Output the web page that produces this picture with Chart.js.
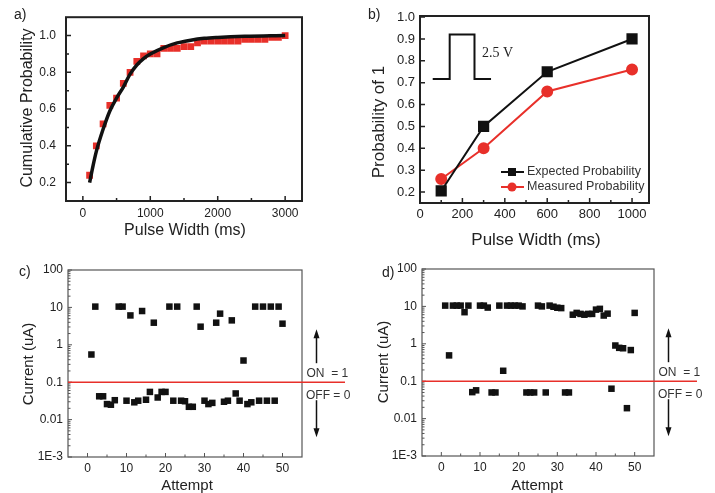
<!DOCTYPE html>
<html>
<head>
<meta charset="utf-8">
<script src="https://cdn.jsdelivr.net/npm/chart.js@4.4.0/dist/chart.umd.min.js"></script>
<style>
  html, body { margin: 0; padding: 0; background: #fff; }
  #wrap { position: relative; width: 715px; height: 493px; overflow: hidden; }
  canvas { position: absolute; left: 0; top: 0; }
</style>
</head>
<body>
<div id="wrap">
  <canvas id="chartA" width="715" height="493"></canvas>
  <canvas id="chartB" width="715" height="493"></canvas>
  <canvas id="chartC" width="715" height="493"></canvas>
  <canvas id="chartD" width="715" height="493"></canvas>
</div>
<script>
// a) cumulative probability vs pulse width
const cumPulse = [100, 200, 300, 400, 500, 600, 700, 800, 900, 1000, 1100, 1200, 1300, 1400, 1500,
  1600, 1700, 1800, 1900, 2000, 2100, 2200, 2300, 2400, 2500, 2600, 2700, 2800, 2900, 3000];
const cumProb = [0.24, 0.40, 0.52, 0.62, 0.66, 0.74, 0.80, 0.86, 0.89, 0.90, 0.90, 0.93, 0.93, 0.93, 0.94,
  0.94, 0.96, 0.97, 0.97, 0.97, 0.97, 0.97, 0.97, 0.98, 0.98, 0.98, 0.98, 0.99, 0.99, 1.00];
const fitPulse = [100, 150, 200, 300, 400, 500, 600, 700, 800, 900, 1000, 1200, 1400, 1600, 1800, 2000, 2400, 3000];
const fitProb = [0.20, 0.29, 0.37, 0.49, 0.59, 0.66, 0.72, 0.79, 0.84, 0.875, 0.90, 0.935, 0.96, 0.975, 0.985, 0.99, 0.996, 1.0];
const xTicksA = [0, 1000, 2000, 3000];
const yTicksA = [0.2, 0.4, 0.6, 0.8, 1.0];

// b) probability of 1
const pulseWidths = [100, 300, 600, 1000];
const expectedProb = [0.205, 0.50, 0.75, 0.90];
const measuredProb = [0.26, 0.40, 0.66, 0.76];
const pulseShapeX = [60, 140, 140, 257, 257, 335];
const pulseShapeY = [0.717, 0.717, 0.92, 0.92, 0.717, 0.717];
const xTicksB = [0, 200, 400, 600, 800, 1000];
const yTicksB = [0.2, 0.3, 0.4, 0.5, 0.6, 0.7, 0.8, 0.9, 1.0];

// c) and d) current per attempt
const attempts = [1, 2, 3, 4, 5, 6, 7, 8, 9, 10, 11, 12, 13, 14, 15, 16, 17, 18, 19, 20, 21, 22, 23, 24, 25,
  26, 27, 28, 29, 30, 31, 32, 33, 34, 35, 36, 37, 38, 39, 40, 41, 42, 43, 44, 45, 46, 47, 48, 49, 50];
const currentC = [0.55, 10.5, 0.042, 0.042, 0.026, 0.025, 0.033, 10.5, 10.5, 0.032,
  6.1, 0.029, 0.032, 8.0, 0.034, 0.055, 3.9, 0.039, 0.055, 0.055,
  10.5, 0.032, 10.5, 0.032, 0.031, 0.022, 0.022, 10.5, 3.05, 0.032,
  0.026, 0.028, 3.9, 6.8, 0.030, 0.032, 4.5, 0.050, 0.032, 0.38,
  0.026, 0.029, 10.5, 0.032, 10.5, 0.032, 10.5, 0.032, 10.5, 3.67];
const currentD = [10.5, 0.49, 10.5, 10.5, 10.5, 7.0, 10.5, 0.051, 0.057, 10.5,
  10.5, 9.3, 0.050, 0.050, 10.5, 0.19, 10.5, 10.5, 10.5, 10.5,
  10.0, 0.050, 0.050, 0.050, 10.5, 10.0, 0.050, 10.5, 9.8, 9.2,
  9.0, 0.050, 0.050, 6.0, 6.7, 6.3, 6.0, 6.3, 6.3, 8.2,
  8.6, 5.7, 6.4, 0.063, 0.9, 0.78, 0.76, 0.019, 0.68, 6.7];
const thresholdCurrent = 0.1;
const xTicksCD = [0, 10, 20, 30, 40, 50];
const yTicksLog = [0.001, 0.01, 0.1, 1, 10, 100];
const yLabelsLog = ['1E-3', '0.01', '0.1', '1', '10', '100'];

const FONT = "'Liberation Sans', Arial, sans-serif";
const RED = '#e8302a';
const AXIS_W = 60;   // fixed width of every y axis box
const AXIS_H = 24;   // fixed height of every x axis box
Chart.defaults.font.family = FONT;
Chart.defaults.color = '#222';

function zip(xs, ys) {
  return xs.map((x, i) => ({ x: x, y: ys[i] }));
}

// axis with fixed ticks and a fixed box size, so the plot box comes from layout padding
function axis(type, min, max, tickVals, labelFn, size, pad) {
  return {
    type: type,
    min: min,
    max: max,
    afterBuildTicks: s => { s.ticks = tickVals.map(v => ({ value: v })); },
    afterFit: s => { if (s.isHorizontal()) s.height = AXIS_H; else s.width = AXIS_W; },
    grid: { display: false, drawTicks: false },
    border: { display: false },
    ticks: { padding: pad, font: { size: size }, color: '#222', maxRotation: 0, autoSkip: false, callback: labelFn }
  };
}

function text(ctx, str, x, y, size, opts) {
  opts = opts || {};
  ctx.save();
  ctx.font = (opts.family ? size + 'px ' + opts.family : size + 'px ' + FONT);
  ctx.fillStyle = opts.color || '#222';
  ctx.textAlign = opts.align || 'center';
  ctx.textBaseline = 'middle';
  ctx.translate(x, y);
  if (opts.rot) ctx.rotate(opts.rot);
  ctx.fillText(str, 0, 0);
  ctx.restore();
}

// frame, inside ticks, titles and extras
function decoPlugin(cfg) {
  return {
    id: 'deco',
    afterDraw(chart) {
      const ctx = chart.ctx, ca = chart.chartArea;
      const xs = chart.scales.x, ys = chart.scales.y;
      ctx.save();
      ctx.strokeStyle = cfg.frameColor;
      ctx.lineWidth = cfg.tickWidth;
      ctx.beginPath();
      xs.ticks.forEach(t => {
        const p = xs.getPixelForValue(t.value);
        ctx.moveTo(p, ca.bottom); ctx.lineTo(p, ca.bottom - cfg.tickLen);
      });
      cfg.xMinor.forEach(v => {
        const p = xs.getPixelForValue(v);
        ctx.moveTo(p, ca.bottom); ctx.lineTo(p, ca.bottom - cfg.minorLen);
      });
      ys.ticks.forEach(t => {
        const p = ys.getPixelForValue(t.value);
        ctx.moveTo(ca.left, p); ctx.lineTo(ca.left + cfg.tickLen, p);
      });
      cfg.yMinor.forEach(v => {
        const p = ys.getPixelForValue(v);
        ctx.moveTo(ca.left, p); ctx.lineTo(ca.left + cfg.minorLen, p);
      });
      ctx.stroke();
      ctx.lineWidth = cfg.frameWidth;
      ctx.strokeRect(ca.left, ca.top, ca.right - ca.left, ca.bottom - ca.top);
      ctx.restore();

      text(ctx, cfg.letter[0], cfg.letter[1], cfg.letter[2], 14, { align: 'left' });
      text(ctx, cfg.xTitle[0], cfg.xTitle[1], cfg.xTitle[2], cfg.titleSize);
      text(ctx, cfg.yTitle[0], cfg.yTitle[1], cfg.yTitle[2], cfg.titleSize, { rot: -Math.PI / 2 });
      if (cfg.extra) cfg.extra(chart);
    }
  };
}

function arrow(ctx, x, y0, y1) {
  const dir = y1 < y0 ? -1 : 1;
  ctx.beginPath();
  ctx.moveTo(x, y0); ctx.lineTo(x, y1 - dir * 7);
  ctx.stroke();
  ctx.beginPath();
  ctx.moveTo(x, y1);
  ctx.lineTo(x - 3, y1 - dir * 9);
  ctx.lineTo(x + 3, y1 - dir * 9);
  ctx.closePath();
  ctx.fill();
}

function thresholdExtra(chart) {
  const ctx = chart.ctx, ca = chart.chartArea;
  const y = chart.scales.y.getPixelForValue(thresholdCurrent);
  ctx.save();
  ctx.strokeStyle = RED;
  ctx.lineWidth = 1.6;
  ctx.beginPath();
  ctx.moveTo(ca.left, y); ctx.lineTo(ca.right + 43, y);
  ctx.stroke();
  ctx.strokeStyle = '#111';
  ctx.fillStyle = '#111';
  ctx.lineWidth = 1.5;
  arrow(ctx, ca.right + 14.5, y - 19, y - 53);
  arrow(ctx, ca.right + 14.5, y + 18, y + 55);
  ctx.restore();
  text(ctx, 'ON  = 1', ca.right + 4.5, y - 9, 12, { align: 'left', color: '#333' });
  text(ctx, 'OFF = 0', ca.right + 4, y + 13, 12, { align: 'left', color: '#333' });
}

function logMinor() {
  const out = [];
  for (let e = -3; e < 2; e++) for (let k = 2; k < 10; k++) out.push(k * Math.pow(10, e));
  return out;
}

function padFor(l, t, r, b) {
  return { left: l - AXIS_W, top: t, right: 715 - r, bottom: 493 - b - AXIS_H };
}

const baseOpts = {
  responsive: false,
  animation: false,
  devicePixelRatio: 1,
  events: [],
  plugins: { legend: { display: false }, tooltip: { enabled: false } }
};

// ---------- a ----------
new Chart(document.getElementById('chartA'), {
  type: 'scatter',
  data: {
    datasets: [
      {
        type: 'line',
        data: zip(fitPulse, fitProb),
        borderColor: '#111',
        borderWidth: 3.5,
        pointRadius: 0,
        cubicInterpolationMode: 'monotone',
        fill: false,
        order: 0
      },
      {
        data: zip(cumPulse, cumProb),
        pointStyle: 'rect',
        pointRadius: 4.8,
        backgroundColor: RED,
        borderWidth: 0,
        order: 1
      }
    ]
  },
  options: Object.assign({}, baseOpts, {
    layout: { padding: padFor(66, 14, 302, 201) },
    scales: {
      x: axis('linear', -250, 3250, xTicksA, v => String(v), 12, 5),
      y: axis('linear', 0.1, 1.1, yTicksA, v => v.toFixed(1), 12, 10)
    }
  }),
  plugins: [decoPlugin({
    frameColor: '#222', frameWidth: 2, tickWidth: 1.5, tickLen: 5, minorLen: 3,
    xMinor: [500, 1500, 2500], yMinor: [0.3, 0.5, 0.7, 0.9],
    letter: ['a)', 14, 15], titleSize: 16,
    xTitle: ['Pulse Width (ms)', 185, 231],
    yTitle: ['Cumulative Probability', 28, 108]
  })]
});

// ---------- b ----------
new Chart(document.getElementById('chartB'), {
  type: 'line',
  data: {
    datasets: [
      {
        label: 'pulse',
        data: zip(pulseShapeX, pulseShapeY),
        borderColor: '#111',
        borderWidth: 2,
        pointRadius: 0,
        tension: 0,
        fill: false
      },
      {
        label: 'Expected Probability',
        data: zip(pulseWidths, expectedProb),
        borderColor: '#111',
        backgroundColor: '#111',
        borderWidth: 2,
        pointStyle: 'rect',
        pointRadius: 6.5,
        tension: 0,
        fill: false
      },
      {
        label: 'Measured Probability',
        data: zip(pulseWidths, measuredProb),
        borderColor: RED,
        backgroundColor: RED,
        borderWidth: 2,
        pointStyle: 'circle',
        pointRadius: 5,
        tension: 0,
        fill: false
      }
    ]
  },
  options: Object.assign({}, baseOpts, {
    layout: { padding: padFor(420, 16, 649, 203) },
    scales: {
      x: axis('linear', 0, 1080, xTicksB, v => String(v), 13, 4),
      y: axis('linear', 0.15, 1.005, yTicksB, v => v.toFixed(1), 13, 5)
    }
  }),
  plugins: [decoPlugin({
    frameColor: '#222', frameWidth: 2, tickWidth: 1.5, tickLen: 5, minorLen: 3,
    xMinor: [100, 300, 500, 700, 900], yMinor: [],
    letter: ['b)', 368, 15], titleSize: 17,
    xTitle: ['Pulse Width (ms)', 536, 240],
    yTitle: ['Probability of 1', 379, 122],
    extra: chart => {
      const ctx = chart.ctx;
      const xs = chart.scales.x, ys = chart.scales.y;
      text(ctx, '2.5 V', xs.getPixelForValue(292), ys.getPixelForValue(0.835), 14,
        { align: 'left', family: "'Liberation Serif', 'Times New Roman', serif" });
      const rows = [
        ['Expected Probability', '#111', 'rect', 172],
        ['Measured Probability', RED, 'circle', 187]
      ];
      rows.forEach(r => {
        ctx.save();
        ctx.strokeStyle = r[1];
        ctx.fillStyle = r[1];
        ctx.lineWidth = 2;
        ctx.beginPath();
        ctx.moveTo(501, r[3]); ctx.lineTo(524, r[3]);
        ctx.stroke();
        if (r[2] === 'rect') ctx.fillRect(508, r[3] - 4, 8, 8);
        else { ctx.beginPath(); ctx.arc(512, r[3], 4.5, 0, Math.PI * 2); ctx.fill(); }
        ctx.restore();
        text(ctx, r[0], 527, r[3], 12.5, { align: 'left', color: '#333' });
      });
    }
  })]
});

// ---------- c, d ----------
function attemptChart(id, values, area, letter, yTitlePos, xTitlePos) {
  return new Chart(document.getElementById(id), {
    type: 'scatter',
    data: {
      datasets: [{
        data: zip(attempts, values),
        pointStyle: 'rect',
        pointRadius: 4.6,
        backgroundColor: '#111',
        borderWidth: 0
      }]
    },
    options: Object.assign({}, baseOpts, {
      layout: { padding: padFor(area[0], area[1], area[2], area[3]) },
      scales: {
        x: axis('linear', -5, 55, xTicksCD, v => String(v), 12, 4),
        y: axis('logarithmic', 0.001, 100, yTicksLog, (v, i) => yLabelsLog[i], 12, 5)
      }
    }),
    plugins: [decoPlugin({
      frameColor: '#555', frameWidth: 1.2, tickWidth: 1, tickLen: 4, minorLen: 2.5,
      xMinor: [5, 15, 25, 35, 45], yMinor: logMinor(),
      letter: letter, titleSize: 15,
      xTitle: ['Attempt', xTitlePos[0], xTitlePos[1]],
      yTitle: ['Current (uA)', yTitlePos[0], yTitlePos[1]],
      extra: thresholdExtra
    })]
  });
}

attemptChart('chartC', currentC, [68, 270, 302, 457], ['c)', 19, 272], [29, 364], [187, 486]);
attemptChart('chartD', currentD, [422, 269, 654, 456], ['d)', 382, 273], [384, 362], [537, 486]);
</script>
</body>
</html>
